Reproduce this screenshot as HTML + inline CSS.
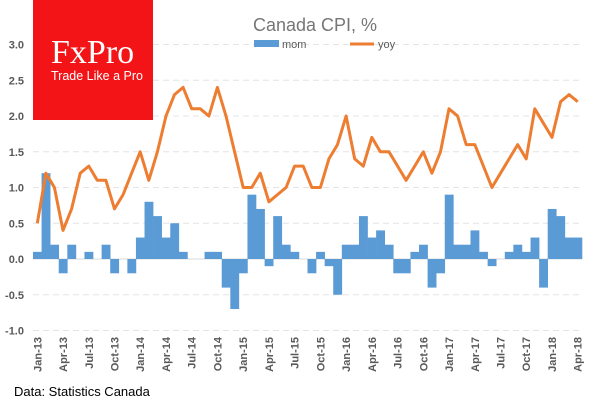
<!DOCTYPE html>
<html><head><meta charset="utf-8"><style>
body{margin:0;background:#fff;}
svg{display:block;font-family:"Liberation Sans",sans-serif;}
</style></head><body>
<svg id="chart" width="600" height="400">
<g id="grid"></g>
<g id="bars"></g>
<path id="yoyline" fill="none" stroke="#ED7D31" stroke-width="3" stroke-linejoin="round"/>
<g id="yticks"></g>
<g id="xticks"></g>
<rect x="33" y="0" width="120" height="120" fill="#F21416"/>
<text x="51" y="63" font-family="Liberation Serif,serif" font-size="34" fill="#fff">FxPro</text>
<text x="51" y="80" font-size="12.5" fill="#fff">Trade Like a Pro</text>
<text x="315" y="31" text-anchor="middle" font-size="18" fill="#767676">Canada CPI, %</text>
<rect x="254" y="40" width="25" height="7" fill="#5B9BD5"/>
<text x="282" y="48" font-size="11" fill="#595959">mom</text>
<line x1="350" y1="44" x2="374" y2="44" stroke="#ED7D31" stroke-width="3"/>
<text x="378" y="48" font-size="11" fill="#595959">yoy</text>
<text x="14" y="396" font-size="13" fill="#000">Data: Statistics Canada</text>
</svg>
<script>
const months=["Jan","Feb","Mar","Apr","May","Jun","Jul","Aug","Sep","Oct","Nov","Dec"];
const categories=[];for(let y=13;y<=18;y++)for(let m=0;m<12;m++){if(y===18&&m>3)break;categories.push(months[m]+"-"+y);}
const momValues=[0.1,1.2,0.2,-0.2,0.2,0,0.1,0,0.2,-0.2,0,-0.2,
0.3,0.8,0.6,0.3,0.5,0.1,0,0,0.1,0.1,-0.4,-0.7,
-0.2,0.9,0.7,-0.1,0.6,0.2,0.1,0,-0.2,0.1,-0.1,-0.5,
0.2,0.2,0.6,0.3,0.4,0.2,-0.2,-0.2,0.1,0.2,-0.4,-0.2,
0.9,0.2,0.2,0.4,0.1,-0.1,0,0.1,0.2,0.1,0.3,-0.4,
0.7,0.6,0.3,0.3];
const yoyValues=[0.5,1.2,1.0,0.4,0.7,1.2,1.3,1.1,1.1,0.7,0.9,1.2,
1.5,1.1,1.5,2.0,2.3,2.4,2.1,2.1,2.0,2.4,2.0,1.5,
1.0,1.0,1.2,0.8,0.9,1.0,1.3,1.3,1.0,1.0,1.4,1.6,
2.0,1.4,1.3,1.7,1.5,1.5,1.3,1.1,1.3,1.5,1.2,1.5,
2.1,2.0,1.6,1.6,1.3,1.0,1.2,1.4,1.6,1.4,2.1,1.9,
1.7,2.2,2.3,2.2];
const yTicks=[3.0,2.5,2.0,1.5,1.0,0.5,0.0,-0.5,-1.0];
const NS="http://www.w3.org/2000/svg";
const x0=33,x1=582,bw=(x1-x0)/categories.length;
const yScale=v=>259-v*71.5;
const xCenter=i=>x0+bw*(i+0.5);
function mk(t,a,p){const e=document.createElementNS(NS,t);for(const k in a)e.setAttribute(k,a[k]);p.appendChild(e);return e;}
const grid=document.getElementById('grid'),yt=document.getElementById('yticks');
yTicks.forEach(v=>{
 const y=yScale(v);
 if(v!==0){const l=mk('line',{x1:x0,x2:x1,y1:y,y2:y,stroke:'#e4e4e4','stroke-dasharray':'6,4'},grid);
 
 }
 const t=mk('text',{x:24,y:y+4,'text-anchor':'end','font-size':11,'font-weight':'bold',fill:'#595959'},yt);
 t.textContent=v.toFixed(1);
 
 
});
const bars=document.getElementById('bars');
momValues.forEach((v,i)=>{
 const y=yScale(Math.max(v,0)),h=Math.abs(yScale(v)-yScale(0));
 const r=mk('rect',{x:x0+bw*i,y:y,width:bw+0.3,height:h,fill:'#5B9BD5'},bars);
 
 
});
const z=mk('line',{x1:x0,x2:x1,y1:yScale(0),y2:yScale(0),stroke:'#d9d9d9'},grid);


document.getElementById('yoyline').setAttribute('d',yoyValues.map((v,i)=>(i?'L':'M')+xCenter(i).toFixed(1)+','+yScale(v).toFixed(1)).join(''));
const xt=document.getElementById('xticks');
categories.forEach((c,i)=>{
 if(i%3)return;
 const x=xCenter(i)+4;
 const t=mk('text',{x:x,y:337,'text-anchor':'end','font-size':11,'font-weight':'bold',fill:'#595959',transform:`rotate(-90 ${x} 337)`},xt);
 t.textContent=c;
 
 
});
</script>
</body></html>
